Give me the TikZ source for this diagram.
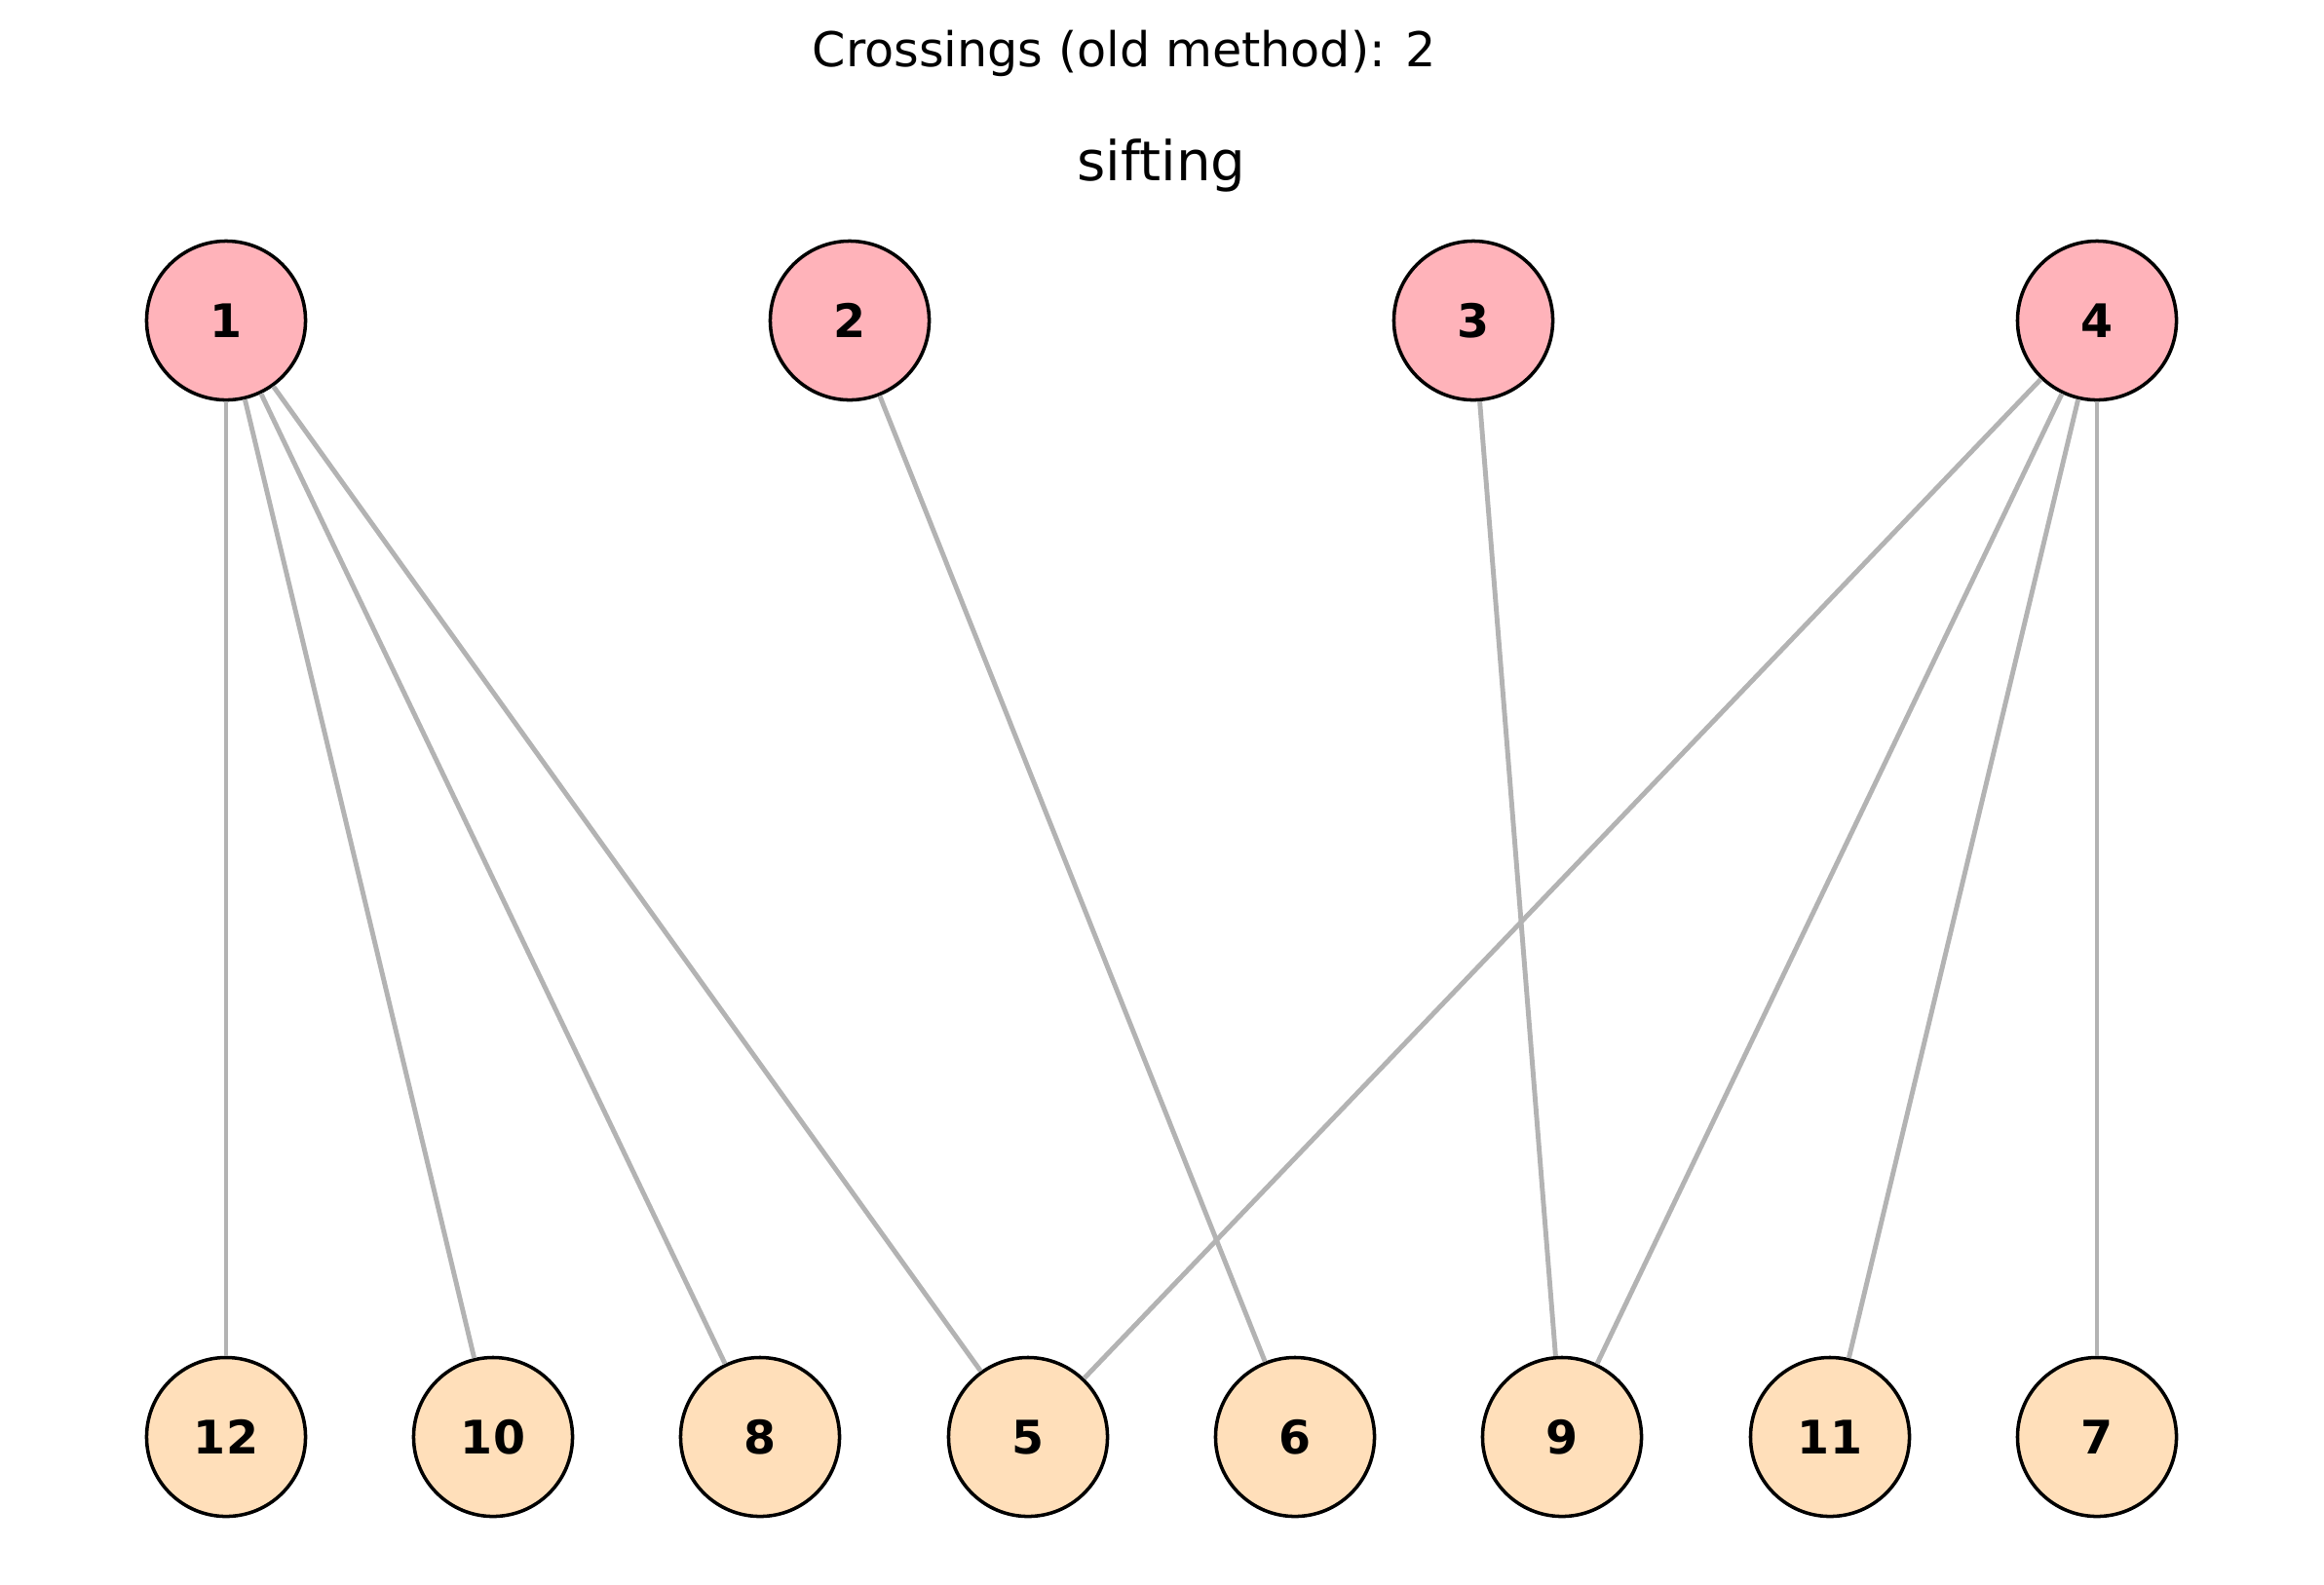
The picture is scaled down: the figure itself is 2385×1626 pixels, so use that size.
\documentclass[tikz,border=0pt]{standalone}
\usepackage{fontspec}
\setmainfont{DejaVu Sans}
\usepackage{tikz}

\definecolor{toppink}{HTML}{FFB3BA}
\definecolor{botpeach}{HTML}{FFDFBA}
\definecolor{edgegray}{HTML}{B3B3B3}

\tikzset{
  vert/.style={circle, draw=black, line width=1pt, minimum size=1.63cm, inner sep=0pt,
    font=\fontsize{13.5}{14}\selectfont\bfseries},
  upper/.style={vert, fill=toppink},
  lower/.style={vert, fill=botpeach},
  edge/.style={edgegray, line width=1.4pt}
}

\begin{document}
\begin{tikzpicture}[x=0.01cm,y=-0.01cm]
    \useasboundingbox (0,0) rectangle (2385,1626);

    \node at (1154,55) (suptitle) {\fontsize{14}{16}\selectfont Crossings (old method): 2};
    \node at (1192,170) (title) {\fontsize{16}{18}\selectfont sifting};

    % upper layer
    \node[upper] at (232,329)  (n1) {1};
    \node[upper] at (872,329)  (n2) {2};
    \node[upper] at (1512,329) (n3) {3};
    \node[upper] at (2152,329) (n4) {4};

    % lower layer
    \node[lower] at (232,1475)  (n12) {12};
    \node[lower] at (506,1475)  (n10) {10};
    \node[lower] at (780,1475)  (n8)  {8};
    \node[lower] at (1055,1475) (n5)  {5};
    \node[lower] at (1329,1475) (n6)  {6};
    \node[lower] at (1603,1475) (n9)  {9};
    \node[lower] at (1878,1475) (n11) {11};
    \node[lower] at (2152,1475) (n7)  {7};

    \draw[edge] (n1) to (n12);
    \draw[edge] (n1) to (n10);
    \draw[edge] (n1) to (n8);
    \draw[edge] (n1) to (n5);
    \draw[edge] (n2) to (n6);
    \draw[edge] (n3) to (n9);
    \draw[edge] (n4) to (n5);
    \draw[edge] (n4) to (n9);
    \draw[edge] (n4) to (n11);
    \draw[edge] (n4) to (n7);
  \end{tikzpicture}
\end{document}
